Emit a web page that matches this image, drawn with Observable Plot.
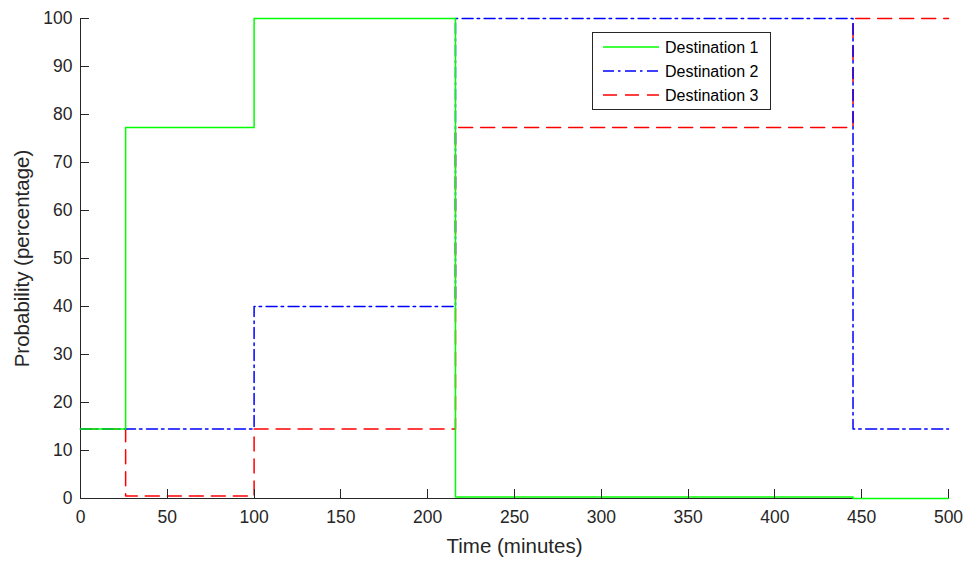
<!DOCTYPE html>
<html>
<head>
<meta charset="utf-8">
<script src="https://cdn.jsdelivr.net/npm/d3@7"></script>
<script src="https://cdn.jsdelivr.net/npm/@observablehq/plot@0.6"></script>
<style>
  html, body { margin: 0; padding: 0; background: #fff; }
  #chart { width: 967px; height: 561px; }
</style>
</head>
<body>
<div id="chart"></div>
<script>
// Breakpoints (minutes) and step values (percentage)
const times1 = [0, 26, 100, 216, 445, 500];
const values1 = [14.5, 77.3, 100, 0.3, 0, 0];
const times2 = [0, 100, 216, 445, 500];
const values2 = [14.5, 40, 100, 14.5, 14.5];
const times3 = [0, 26, 100, 216, 445, 500];
const values3 = [14.5, 0.5, 14.5, 77.3, 100, 100];

const seriesNames = ["Destination 1", "Destination 2", "Destination 3"];
const seriesColors = ["#00ff00", "#0000ff", "#ff0000"];
const seriesDash = [null, "11,4,2.5,4.5", "14,8"];

const xTicks = [0, 50, 100, 150, 200, 250, 300, 350, 400, 450, 500];
const yTicks = [0, 10, 20, 30, 40, 50, 60, 70, 80, 90, 100];

const toRows = (ts, vs, name) => ts.map((t, i) => ({t, v: vs[i], name}));
const rows1 = toRows(times1, values1, seriesNames[0]);
const rows2 = toRows(times2, values2, seriesNames[1]);
const rows3 = toRows(times3, values3, seriesNames[2]);

const axisColor = "#262626";
const font = "'Liberation Sans', Arial, Helvetica, sans-serif";

const chart = Plot.plot({
  width: 967,
  height: 561,
  marginLeft: 80,
  marginRight: 19,
  marginTop: 18,
  marginBottom: 63,
  style: {fontFamily: font, background: "#fff", overflow: "visible"},
  x: {domain: [0, 500]},
  y: {domain: [0, 100]},
  marks: [
    Plot.axisX({ticks: xTicks, tickSize: 0, tickPadding: 12, fontSize: 17.5, fill: axisColor, label: null}),
    Plot.axisY({ticks: yTicks, tickSize: 0, tickPadding: 8, fontSize: 17.5, fill: axisColor, label: null}),
    Plot.ruleY([0], {stroke: axisColor, strokeWidth: 1}),
    Plot.ruleX([0], {stroke: axisColor, strokeWidth: 1}),
    Plot.line(rows3, {x: "t", y: "v", curve: "step-after", stroke: seriesColors[2], strokeWidth: 1.5, strokeDasharray: seriesDash[2]}),
    Plot.line(rows2, {x: "t", y: "v", curve: "step-after", stroke: seriesColors[1], strokeWidth: 1.5, strokeDasharray: seriesDash[1]}),
    Plot.line(rows1, {x: "t", y: "v", curve: "step-after", stroke: seriesColors[0], strokeWidth: 1.5}),
    Plot.text(["Time (minutes)"], {frameAnchor: "bottom", dy: 48, fontSize: 20.5, fill: axisColor, lineAnchor: "middle"}),
    Plot.text(["Probability (percentage)"], {frameAnchor: "left", dx: -58, rotate: -90, fontSize: 20.5, fill: axisColor, lineAnchor: "middle", textAnchor: "middle"})
  ]
});

document.getElementById("chart").appendChild(chart);

// Short inward tick marks (MATLAB style)
const svg = d3.select(chart);
const xs = chart.scale("x"), ys = chart.scale("y");
const tg = svg.append("g").attr("stroke", axisColor).attr("stroke-width", 1);
const yBase = ys.apply(0), xBase = xs.apply(0);
xTicks.forEach(t => {
  const x = Math.round(xs.apply(t)) + 0.5;
  tg.append("line").attr("x1", x).attr("x2", x).attr("y1", yBase).attr("y2", yBase - 9);
});
yTicks.forEach(t => {
  const y = Math.round(ys.apply(t)) + 0.5;
  tg.append("line").attr("x1", xBase).attr("x2", xBase + 9).attr("y1", y).attr("y2", y);
});

// Legend box
const lg = svg.append("g").attr("transform", "translate(592,32)");
lg.append("rect").attr("x", 0.5).attr("y", 0.5).attr("width", 178).attr("height", 77)
  .attr("fill", "#fff").attr("stroke", axisColor).attr("stroke-width", 1);
seriesNames.forEach((name, i) => {
  const y = 15 + i * 24;
  lg.append("line").attr("x1", 11).attr("x2", 67).attr("y1", y).attr("y2", y)
    .attr("stroke", seriesColors[i]).attr("stroke-width", 1.5)
    .attr("stroke-dasharray", seriesDash[i]);
  lg.append("text").attr("x", 73).attr("y", y).attr("dy", "0.35em")
    .attr("text-anchor", "start")
    .attr("font-size", 16).attr("fill", "#000").attr("font-family", font).text(name);
});
</script>
</body>
</html>
